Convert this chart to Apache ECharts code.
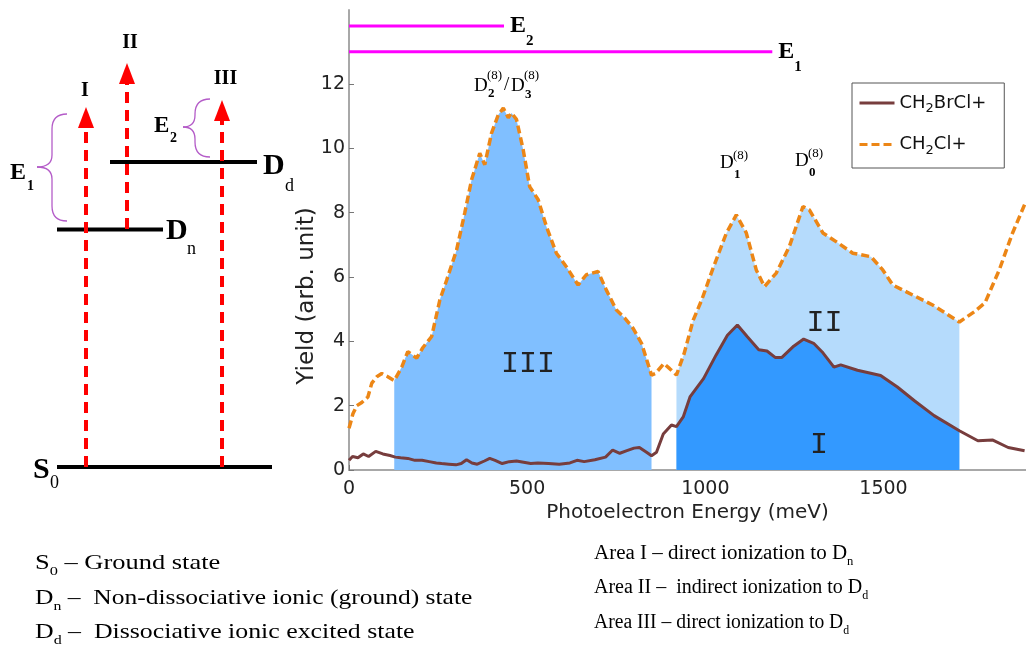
<!DOCTYPE html>
<html><head><meta charset="utf-8">
<script src="https://cdn.jsdelivr.net/npm/echarts@6/dist/echarts.min.js"></script>
<style>html,body{margin:0;padding:0;background:#fff}#c{width:1026px;height:646px}</style>
</head><body><div id="c"></div>
<script>
// ---------- data ----------
const energyCl = [0,4,11,22,36,53,64,78,92,109,127,148,165,190,207,232,255,274,302,325,344,367,381,400,419,433,447,456,470,489,507,531,554,582,610,643,666,699,722,750,774,797,821,849,860,884,900,919,940,966,990,1020,1059,1087,1115,1143,1166,1199,1236,1274,1292,1330,1367,1414,1465,1498,1526,1591,1638,1713,1755,1785,1825,1862,1898];
const yieldCl = [1.30,1.45,1.75,2.00,2.10,2.27,2.70,2.90,3.00,2.90,2.78,3.20,3.68,3.48,3.80,4.15,5.29,5.90,6.84,8.00,9.02,9.85,9.49,10.47,11.04,11.25,10.95,11.10,10.90,9.95,8.81,8.40,7.57,6.74,6.32,5.75,6.07,6.17,5.60,4.98,4.72,4.41,3.94,2.95,3.00,3.31,3.15,2.95,3.60,4.66,5.29,6.22,7.36,7.93,7.37,6.22,5.70,6.12,6.95,8.19,8.09,7.37,7.10,6.74,6.63,6.22,5.75,5.39,5.13,4.60,4.92,5.20,6.22,7.36,8.30];
const energyBr = [0,10,25,40,55,75,95,115,130,145,165,185,205,225,245,260,280,300,315,330,345,360,380,395,410,430,450,470,490,510,530,560,590,620,640,660,690,720,740,760,780,800,815,835,849,863,882,905,919,938,957,995,1030,1062,1090,1118,1150,1173,1196,1215,1248,1276,1304,1328,1361,1380,1427,1492,1539,1586,1642,1713,1765,1807,1850,1896];
const yieldBr = [0.30,0.42,0.38,0.50,0.42,0.58,0.50,0.45,0.40,0.38,0.36,0.30,0.30,0.26,0.22,0.20,0.18,0.16,0.20,0.32,0.22,0.18,0.28,0.36,0.30,0.20,0.26,0.28,0.24,0.20,0.22,0.20,0.18,0.22,0.30,0.26,0.32,0.40,0.62,0.52,0.60,0.68,0.70,0.55,0.44,0.55,1.12,1.40,1.35,1.65,2.27,2.84,3.57,4.19,4.51,4.14,3.74,3.70,3.50,3.50,3.85,4.07,3.94,3.67,3.20,3.27,3.10,2.94,2.58,2.16,1.69,1.22,0.91,0.93,0.70,0.60];
const areaIIIRange = [127, 849];   // direct ionization to Dd (under CH2Cl+)
const areaIIRange  = [919, 1713];  // areas I and II
const eLineEnds   = [1188, 435];   // E1, E2 extent (meV)
const eLineLevels = [13.0, 13.8];  // E1, E2 (y)
const xTickValues = [0, 500, 1000, 1500];
const yTickValues = [0, 2, 4, 6, 8, 10, 12];

// ---------- helpers ----------
const pairs = (xs, ys) => xs.map((x, i) => [x, ys[i]]);
const within = (pts, r) => pts.filter(p => p[0] >= r[0] && p[0] <= r[1]);
const clPts = pairs(energyCl, yieldCl);
const brPts = pairs(energyBr, yieldBr);
const SERIF = 'Liberation Serif';
const SANS = 'DejaVu Sans';

function T(x, y, text, size, opts) {
  opts = opts || {};
  return { type: 'text', x: x, y: y, silent: true, z: 50,
    style: { text: text, fontSize: size, fontFamily: opts.family || SERIF,
      fontWeight: opts.bold ? 'bold' : 'normal', fill: opts.fill || '#000',
      align: opts.align || 'left', verticalAlign: 'middle' } };
}
function L(x1, y1, x2, y2, color, w, dash) {
  return { type: 'line', silent: true, z: 40,
    shape: { x1: x1, y1: y1, x2: x2, y2: y2 },
    style: { stroke: color, lineWidth: w, lineDash: dash || null } };
}
function Q(x1, y1, cx, cy, x2, y2) {
  return { type: 'bezierCurve', silent: true, z: 40,
    shape: { x1: x1, y1: y1, cpx1: cx, cpy1: cy, x2: x2, y2: y2 },
    style: { stroke: '#b45cc8', lineWidth: 1.3, fill: null } };
}
function arrowHead(x, top, base) {
  return { type: 'polygon', silent: true, z: 41,
    shape: { points: [[x, top], [x - 8, base], [x + 8, base]] },
    style: { fill: '#ff0000' } };
}
// curly brace opening to the right; tip at (tx, ty)
function brace(xe, top, xv, tx, ty, bottom) {
  const r = xe - xv;
  return [
    Q(xe, top, xv, top, xv, top + r),
    L(xv, top + r, xv, ty - r * 0.8, '#b45cc8', 1.3),
    Q(xv, ty - r * 0.8, xv, ty, tx, ty),
    Q(tx, ty, xv, ty, xv, ty + r * 0.8),
    L(xv, ty + r * 0.8, xv, bottom - r, '#b45cc8', 1.3),
    Q(xv, bottom - r, xv, bottom, xe, bottom)
  ];
}

const RED = '#ff0000';
const DASH = [11, 7];
const graphics = [
  // energy levels
  L(57, 467, 272, 467, '#000', 4),
  L(57, 229.5, 163, 229.5, '#000', 4),
  L(110, 162, 257, 162, '#000', 4),
  // arrows
  L(86, 467, 86, 124, RED, 4, DASH), arrowHead(86, 107, 128),
  L(127, 229, 127, 80, RED, 4, DASH), arrowHead(127, 63, 84),
  L(222, 467, 222, 116, RED, 4, DASH), arrowHead(222, 100, 121),
  // diagram labels
  T(85, 91, 'I', 20, {bold: true, align: 'center'}),
  T(130, 43, 'II', 20, {bold: true, align: 'center'}),
  T(225.5, 79, 'III', 20, {bold: true, align: 'center'}),
  T(10, 173, 'E', 24, {bold: true}), T(27, 186, '1', 14, {bold: true}),
  T(154, 126, 'E', 23, {bold: true}), T(170, 138, '2', 14, {bold: true}),
  T(263, 166, 'D', 30, {bold: true}), T(285, 186, 'd', 18),
  T(166, 231, 'D', 30, {bold: true}), T(187, 249, 'n', 18),
  T(33, 470, 'S', 30, {bold: true}), T(50, 483, '0', 18),
  // peak annotations
  T(474, 86, 'D', 19), T(487, 76, '(8)', 13), T(488, 94, '2', 13, {bold: true}),
  T(504, 85, '/', 19), T(511, 86, 'D', 19), T(524, 76, '(8)', 13), T(525, 95, '3', 13, {bold: true}),
  T(720, 163.5, 'D', 19), T(733, 156, '(8)', 13), T(734, 175, '1', 13, {bold: true}),
  T(795, 161.5, 'D', 19), T(808, 154, '(8)', 13), T(809, 173, '0', 13, {bold: true}),
  // area labels
  T(528, 364.5, 'III', 30, {family: 'Liberation Mono', align: 'center', fill: '#222'}),
  T(824.5, 323.5, 'II', 30, {family: 'Liberation Mono', align: 'center', fill: '#222'}),
  T(819, 445, 'I', 30, {family: 'Liberation Mono', align: 'center', fill: '#222'})
].concat(
  brace(67, 114, 52, 37, 167, 221),
  brace(210, 99, 195, 183, 127, 157)
);

// bottom explanatory text with subscripts
function richB(fs) {
  return { t: { fontSize: fs, fontFamily: SERIF, fill: '#000' },
           s: { fontSize: Math.round(fs * 0.6), fontFamily: SERIF, fill: '#000', padding: [Math.round(fs * 0.8), 0, 0, 0] } };
}
function R(x, y, text, fs, sx) {
  return { type: 'text', x: x, y: y, scaleX: sx, silent: true, z: 50,
    style: { text: text, rich: richB(fs), align: 'left', verticalAlign: 'middle', fontSize: fs, fontFamily: SERIF } };
}
graphics.push(
  R(35, 563, '{t|S}{s|0}{t| – Ground state}', 21, 1.26),
  R(35, 598, '{t|D}{s|n}{t| –  Non-dissociative ionic (ground) state}', 21, 1.215),
  R(35, 632, '{t|D}{s|d}{t| –  Dissociative ionic excited state}', 21, 1.23),
  R(594, 554, '{t|Area I – direct ionization to D}{s|n}', 20, 1.05),
  R(594, 588, '{t|Area II –  indirect ionization to D}{s|d}', 20, 1.0),
  R(594, 623, '{t|Area III – direct ionization to D}{s|d}', 20, 0.98)
);

const areaBase = { type: 'line', symbol: 'none', silent: true, lineStyle: { width: 0, opacity: 0 } };
const eLabelRich = { e: { fontSize: 24, fontWeight: 'bold', fontFamily: SERIF, color: '#000' },
                     s: { fontSize: 15, fontWeight: 'bold', fontFamily: SERIF, color: '#000', padding: [30, 0, 0, 0] } };

const option = {
  animation: false,
  backgroundColor: '#fff',
  grid: { left: 349, top: 10, width: 678, height: 460 },
  xAxis: {
    type: 'value', min: 0, max: 1900,
    name: 'Photoelectron Energy (meV)', nameLocation: 'middle', nameGap: 33, nameMoveOverlap: false,
    nameTextStyle: { fontFamily: SANS, fontSize: 20, color: '#222' },
    axisLine: { lineStyle: { color: '#a8a8a8', width: 2 } },
    axisTick: { inside: true, length: 5, lineStyle: { color: '#777' }, customValues: xTickValues },
    axisLabel: { fontFamily: SANS, fontSize: 19, color: '#222', margin: 10, customValues: xTickValues,
      formatter: v => String(v) },
    splitLine: { show: false }
  },
  yAxis: {
    type: 'value', min: 0, max: 14.3,
    name: 'Yield (arb. unit)', nameLocation: 'middle', nameGap: 30, nameMoveOverlap: false,
    nameTextStyle: { fontFamily: SANS, fontSize: 23, color: '#222', padding: [0, 112, 0, 0] },
    axisLine: { show: true, lineStyle: { color: '#a8a8a8', width: 2 } },
    axisTick: { show: true, inside: true, length: 5, lineStyle: { color: '#777' }, customValues: yTickValues },
    axisLabel: { fontFamily: SANS, fontSize: 19, color: '#222', margin: 4, customValues: yTickValues },
    splitLine: { show: false }
  },
  legend: {
    data: ['CH2BrCl+', 'CH2Cl+'],
    orient: 'vertical', left: 852, top: 83, itemGap: 20,
    itemWidth: 35, itemHeight: 14,
    padding: [11, 18, 11, 6],
    borderColor: '#555', borderWidth: 1, backgroundColor: '#fff',
    itemStyle: { opacity: 0 },
    lineStyle: { width: 3 },
    formatter: n => n === 'CH2BrCl+' ? '{n|CH}{s|2}{n|BrCl+}' : '{n|CH}{s|2}{n|Cl+}',
    textStyle: { fontFamily: SANS, fontSize: 18, color: '#111',
      rich: { n: { fontFamily: SANS, fontSize: 18, color: '#111' },
              s: { fontFamily: SANS, fontSize: 13, color: '#111', padding: [12, 0, 0, 0] } } }
  },
  series: [
    Object.assign({}, areaBase, { name: 'Area III', data: within(clPts, areaIIIRange), z: 1,
      areaStyle: { color: '#80bfff', opacity: 1 } }),
    Object.assign({}, areaBase, { name: 'Area II', data: within(clPts, areaIIRange), z: 1,
      areaStyle: { color: '#b5dbfc', opacity: 1 } }),
    Object.assign({}, areaBase, { name: 'Area I', data: within(brPts, areaIIRange), z: 2,
      areaStyle: { color: '#3399ff', opacity: 1 } }),
    { name: 'CH2BrCl+', type: 'line', data: brPts, symbol: 'none', z: 5,
      lineStyle: { color: '#773d3d', width: 3 }, itemStyle: { color: '#773d3d' } },
    { name: 'CH2Cl+', type: 'line', data: clPts, symbol: 'none', z: 6,
      lineStyle: { color: '#ec8616', width: 3.5, type: [8, 4] }, itemStyle: { color: '#ec8616' } },
    { name: 'E1', type: 'line', symbol: 'none', z: 6, silent: true,
      data: [[0, eLineLevels[0]], [eLineEnds[0], eLineLevels[0]]],
      lineStyle: { color: '#ff00ff', width: 3 },
      endLabel: { show: true, distance: 6, formatter: '{e|E}{s|1}', rich: eLabelRich } },
    { name: 'E2', type: 'line', symbol: 'none', z: 6, silent: true,
      data: [[0, eLineLevels[1]], [eLineEnds[1], eLineLevels[1]]],
      lineStyle: { color: '#ff00ff', width: 3 },
      endLabel: { show: true, distance: 6, formatter: '{e|E}{s|2}', rich: eLabelRich } }
  ],
  graphic: graphics
};
const chart = echarts.init(document.getElementById('c'), null, { renderer: 'canvas' });
chart.setOption(option);
</script></body></html>
